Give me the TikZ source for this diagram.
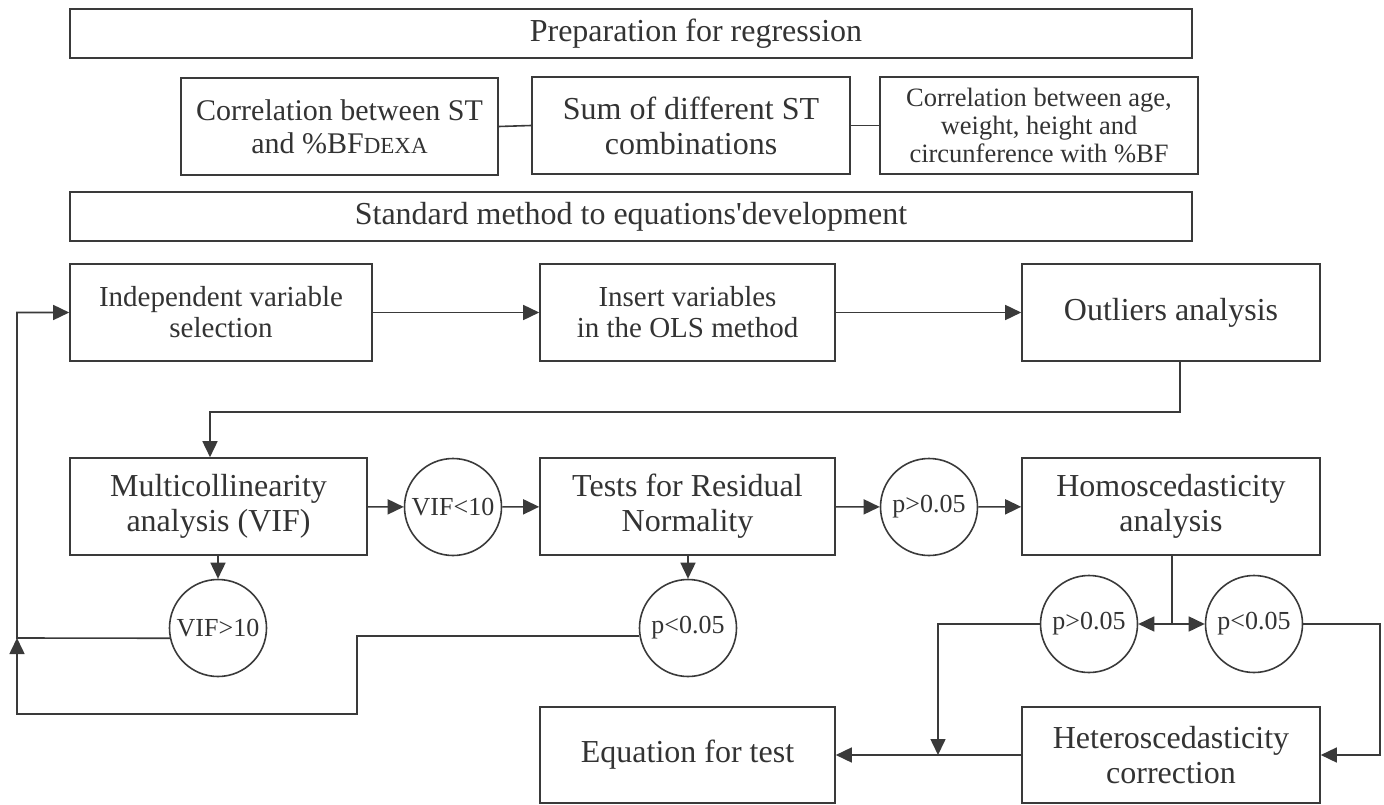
\documentclass[tikz,border=0pt]{standalone}
\usepackage{fontspec}
\setmainfont{Liberation Serif}
\usetikzlibrary{arrows.meta}
\definecolor{ink}{HTML}{3A3A3A}
\definecolor{txt}{HTML}{333333}
\tikzset{
  box/.style={draw=ink, line width=1.6pt, rectangle, inner sep=0pt, align=center, text=txt,
    font=\fontsize{32}{35}\selectfont},
  circ/.style={draw=ink, line width=1.6pt, circle, inner sep=0pt, minimum size=97pt, text=txt,
    font=\fontsize{26}{29}\selectfont},
  conn/.style={draw=ink, line width=1.6pt},
  arr/.style={conn, -{Triangle[length=16pt,width=15pt]}},
}
\begin{document}
\begin{tikzpicture}[x=1pt,y=-1pt]
\useasboundingbox (0,0) rectangle (1384,805);
% top
\node[box, minimum width=1122pt, minimum height=49pt] (prep) at (631,33.5) {\hspace*{130pt}Preparation for regression};
\node[box, minimum width=317pt, minimum height=97pt, font=\fontsize{30}{33}\selectfont] (corr1) at (339.5,126.5) {Correlation between ST\\and \%BF{\fontsize{23}{26}\selectfont DEXA}};
\node[box, minimum width=318pt, minimum height=97pt] (sum) at (691,125.5) {Sum of different ST\\combinations};
\node[box, minimum width=318pt, minimum height=97pt, font=\fontsize{26.5}{28}\selectfont] (corr2) at (1039,125.5) {Correlation between age,\\weight, height and\\circunference with \%BF};
\node[box, minimum width=1122pt, minimum height=49pt] (std) at (631,216.5) {Standard method to equations\textquotesingle development};
% row 3
\node[box, minimum width=302pt, minimum height=97pt, font=\fontsize{29}{31}\selectfont] (indep) at (221,312.5) {Independent variable\\selection};
\node[box, minimum width=295pt, minimum height=97pt, font=\fontsize{29}{31}\selectfont] (insert) at (687.5,312.5) {Insert variables\\in the OLS method};
\node[box, minimum width=298pt, minimum height=97pt] (outl) at (1171,312.5) {Outliers analysis};
% row 4
\node[box, minimum width=297pt, minimum height=97pt] (multi) at (218.5,506.5) {Multicollinearity\\analysis (VIF)};
\node[circ] (vif1) at (453,507) {VIF<10};
\node[box, minimum width=295pt, minimum height=97pt] (tests) at (687.5,506.5) {Tests for Residual\\Normality};
\node[circ] (p1) at (929,507) {p>0.05};
\node[box, minimum width=298pt, minimum height=97pt] (homo) at (1171,506.5) {Homoscedasticity\\analysis};
% row 5
\node[circ] (vif2) at (218,628) {VIF>10};
\node[circ] (p2) at (688,628) {p<0.05};
\node[circ] (p3) at (1089,624) {p>0.05};
\node[circ] (p4) at (1254,624) {p<0.05};
% bottom
\node[box, minimum width=295pt, minimum height=96pt] (eq) at (687.5,755) {Equation for test};
\node[box, minimum width=298pt, minimum height=96pt] (hetero) at (1171,755) {Heteroscedasticity\\correction};
% coordinates
\coordinate (L) at (17,638);
\coordinate (H) at (1172,624);
% connectors
\draw[conn] (corr1.east) -- (sum.west);
\draw[conn] (sum.east) -- (corr2.west);
\draw[arr] (indep) -- (insert);
\draw[arr] (insert) -- (outl);
\draw[arr] ([xshift=9pt]outl.south) -- ++(0,50) -| ([xshift=-8.5pt]multi.north);
\draw[arr] (multi) -- (vif1);
\draw[arr] (vif1) -- (tests);
\draw[arr] (tests) -- (p1);
\draw[arr] (p1) -- (homo);
\draw[arr] (multi.south -| vif2) -- (vif2.north);
\draw[arr] (tests.south -| p2) -- (p2.north);
\draw[arr] (vif2.192) -- (L) |- (indep.west);
\draw[arr] (p2.189) -| (357,714) -- (17,714) -- (L);
\draw[conn] (homo.south -| H) -- (H);
\draw[arr] (H) -- (p3.east);
\draw[arr] (H) -- (p4.west);
\draw[arr] (p3.west) -| (938,755);
\draw[arr] (p4.east) -- (1380,624) |- (hetero.east);
\draw[arr] (hetero.west) -- (eq.east);
\end{tikzpicture}
\end{document}
